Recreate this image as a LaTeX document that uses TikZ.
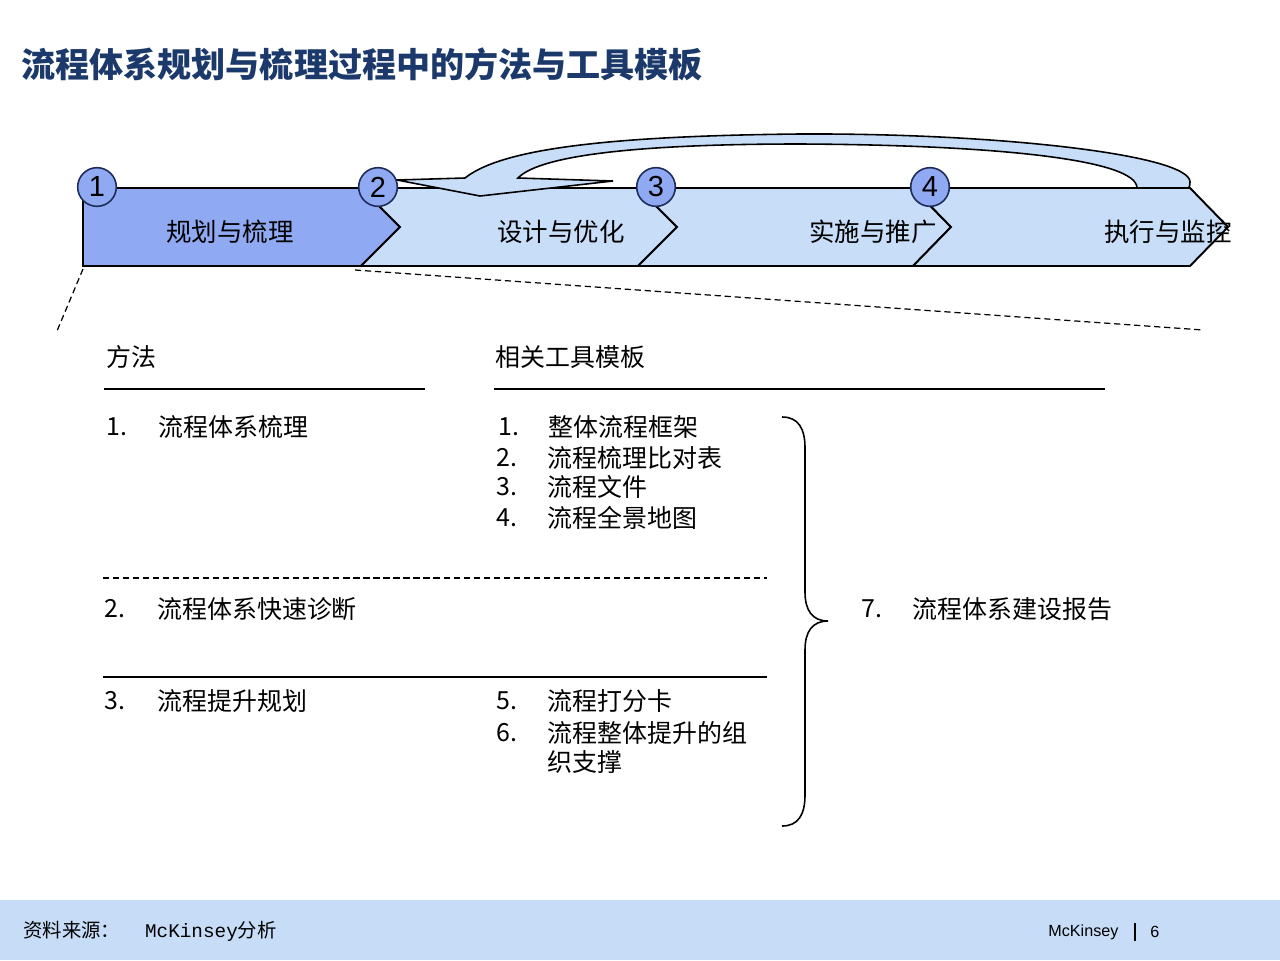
\documentclass[tikz,border=0pt]{standalone}
\usepackage{fontspec}
\newfontfamily\cjk{Noto Sans CJK SC}
\newfontfamily\arialf{Liberation Sans}
\newfontfamily\monof{Liberation Mono}
\definecolor{darkblue}{HTML}{1B3A6B}
\definecolor{midblue}{HTML}{8FAAF2}
\definecolor{lightblue}{HTML}{C8DEF8}
\definecolor{footblue}{HTML}{C6DCF7}
\definecolor{navy}{HTML}{1F2C5A}
\tikzset{
  chev/.style={draw=black, line width=1.1pt, line join=miter},
  numcirc/.style={circle, draw=navy, fill=midblue, line width=0.9pt, minimum size=22pt, inner sep=0, font=\arialf\fontsize{16.5}{16.5}\selectfont},
  chevlabel/.style={font=\cjk\fontsize{14.5}{17}\selectfont, inner sep=0},
  txt/.style={font=\cjk\fontsize{14.2}{17}\selectfont, anchor=west, inner sep=0},
  hdrline/.style={line width=0.8pt},
  dashline/.style={line width=0.7pt, dash pattern=on 3.5pt off 2.2pt},
}
\begin{document}
\begin{tikzpicture}[x=0.02cm, y=-0.02cm]
\useasboundingbox (0,0) rectangle (1280,960);
% footer band
\fill[footblue] (0,900) rectangle (1280,960);
% title
\node[anchor=west, inner sep=0, text=darkblue, font=\cjk\bfseries\fontsize{19.4}{22}\selectfont] (title) at (21,64) {流程体系规划与梳理过程中的方法与工具模板};
% chevrons
\path[chev, fill=midblue] (83,188) -- (361,188) -- (400,227) -- (361,266) -- (83,266) -- cycle;
\path[chev, fill=lightblue] (361,188) -- (638,188) -- (677,227) -- (638,266) -- (361,266) -- (400,227) -- cycle;
\path[chev, fill=lightblue] (638,188) -- (913,188) -- (951,227) -- (913,266) -- (638,266) -- (677,227) -- cycle;
\path[chev, fill=lightblue] (913,188) -- (1190,188) -- (1228,227) -- (1190,266) -- (913,266) -- (951,227) -- cycle;
% curved arrow (drawn over the chevrons)
\path[chev, fill=lightblue, line width=0.9pt] (397,180) -- (465,178)
  .. controls (500,150) and (600,136) .. (800,134)
  .. controls (1000,133) and (1190,155) .. (1190,182)
  .. controls (1190,186) and (1189,188) .. (1188,188)
  -- (1137,188)
  .. controls (1137,160) and (1000,145) .. (800,144)
  .. controls (640,144) and (540,155) .. (518,178)
  -- (613,181) -- (480,196) -- cycle;
% circles
\node[numcirc] (c1) at (97,187) {1};
\node[numcirc] (c2) at (378,187) {2};
\node[numcirc] (c3) at (656,187) {3};
\node[numcirc] (c4) at (930,187) {4};
% chevron labels
\node[chevlabel] (l1) at (230,232) {规划与梳理};
\node[chevlabel] (l2) at (561,232) {设计与优化};
\node[chevlabel] (l3) at (873,232) {实施与推广};
\node[chevlabel] (l4) at (1168,232) {执行与监控};
% zoom dashed lines
\draw[dashline] (83,269) -- (57,331);
\draw[dashline] (355,270) -- (1203,330);
% headers
\node[txt] (h1) at (106,357) {方法};
\node[txt] (h2) at (495,357) {相关工具模板};
\draw[hdrline] (104,389) -- (425,389);
\draw[hdrline] (494,389) -- (1105,389);
% methods
\node[txt] (m1n) at (106,427) {1.};
\node[txt] (m1) at (158,427) {流程体系梳理};
\node[txt] (m2n) at (104,609) {2.};
\node[txt] (m2) at (157,609) {流程体系快速诊断};
\node[txt] (m3n) at (104,701) {3.};
\node[txt] (m3) at (157,701) {流程提升规划};
% tools
\node[txt] (t1n) at (498,427) {1.};
\node[txt] (t1) at (548,427) {整体流程框架};
\node[txt] (t2n) at (496,458) {2.};
\node[txt] (t2) at (547,458) {流程梳理比对表};
\node[txt] (t3n) at (496,487) {3.};
\node[txt] (t3) at (547,487) {流程文件};
\node[txt] (t4n) at (496,518) {4.};
\node[txt] (t4) at (547,518) {流程全景地图};
\node[txt] (t5n) at (496,701) {5.};
\node[txt] (t5) at (547,701) {流程打分卡};
\node[txt] (t6n) at (496,733) {6.};
\node[txt] (t6) at (547,733) {流程整体提升的组};
\node[txt] (t6b) at (547,762) {织支撑};
% separators
\draw[dashline] (103,578) -- (767,578);
\draw[line width=0.8pt] (103,677) -- (767,677);
% brace
\draw[line width=0.9pt] (782,417) .. controls (798,417) and (805,428) .. (805,448)
  -- (805,592) .. controls (805,610) and (812,621) .. (828,621)
  .. controls (812,621) and (805,632) .. (805,650)
  -- (805,795) .. controls (805,815) and (798,826) .. (782,826);
\node[txt] (r7n) at (861,609) {7.};
\node[txt] (r7) at (912,609) {流程体系建设报告};
% footer
\node[anchor=west, inner sep=0, font=\cjk\fontsize{11}{13}\selectfont] (src) at (23,931) {资料来源：\hspace{1.3em}{\monof McKinsey}分析};
\node[anchor=west, inner sep=0, font=\arialf\fontsize{9.2}{11}\selectfont] (mck) at (1048,932) {McKinsey};
\draw[line width=1.2pt] (1135,923) -- (1135,941);
\node[anchor=west, inner sep=0, font=\arialf\fontsize{9.2}{11}\selectfont] (pg) at (1150,932) {6};
\end{tikzpicture}
\end{document}
